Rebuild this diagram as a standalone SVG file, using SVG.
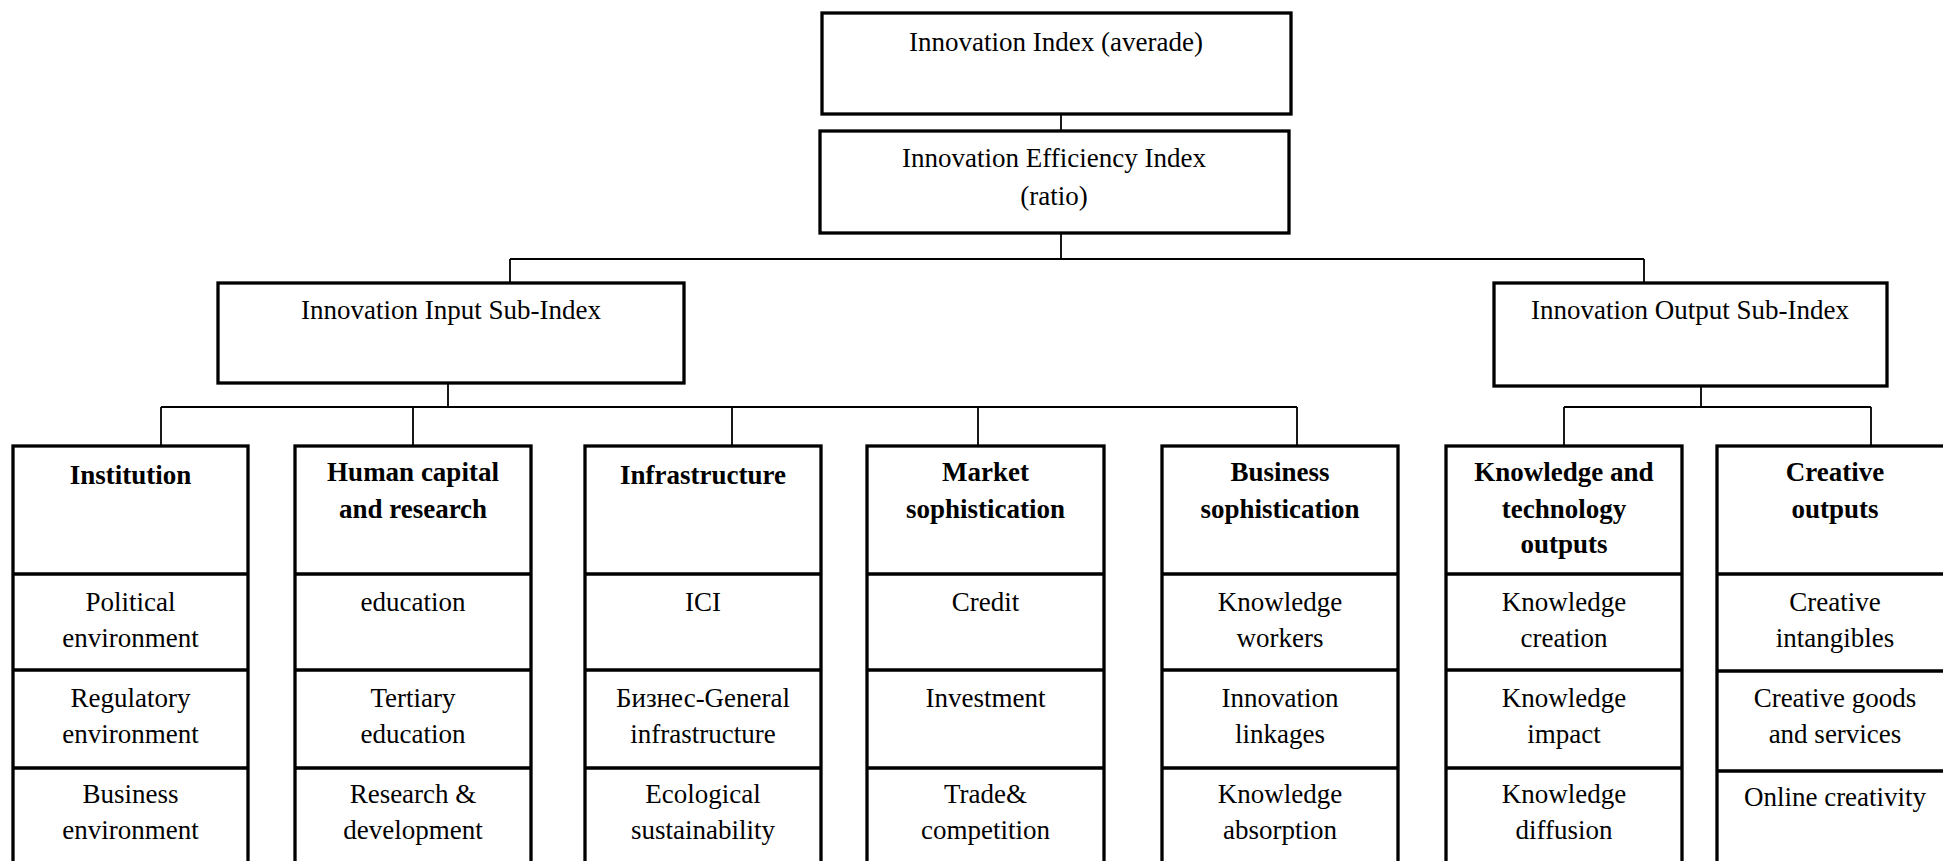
<svg xmlns="http://www.w3.org/2000/svg" width="1943" height="861" viewBox="0 0 1943 861">
  <style>
    .box { fill: #ffffff; stroke: #000000; stroke-width: 3.3; }
    .div { stroke: #000000; stroke-width: 3.3; fill: none; }
    .link { stroke: #000000; stroke-width: 1.8; fill: none; }
    text { font-family: "Liberation Serif", "Times New Roman", serif; font-size: 27px; fill: #000000; text-anchor: middle; }
    .hd { font-weight: bold; }
  </style>
  <rect width="1943" height="861" fill="#ffffff"/>

  <!-- connectors -->
  <g id="connectors">
    <path class="link" d="M1061,114 V131"/>
    <path class="link" d="M1061,233 V259 M510,259 H1644 M510,259 V283 M1644,259 V283"/>
    <path class="link" d="M448,383 V407 M161,407 H1297"/>
    <path class="link" d="M161,407 V446 M413,407 V446 M732,407 V446 M978,407 V446 M1297,407 V446"/>
    <path class="link" d="M1701,386 V407 M1564,407 H1871 M1564,407 V446 M1871,407 V446"/>
  </g>

  <!-- top level -->
  <g id="innovation-index">
    <rect class="box" x="822" y="13" width="469" height="101"/>
    <text x="1056" y="51">Innovation Index (averade)</text>
  </g>
  <g id="efficiency-index">
    <rect class="box" x="820" y="131" width="469" height="102"/>
    <text x="1054" y="167">Innovation Efficiency Index</text>
    <text x="1054" y="205">(ratio)</text>
  </g>

  <!-- sub-indices -->
  <g id="input-sub-index">
    <rect class="box" x="218" y="283" width="466" height="100"/>
    <text x="451" y="319">Innovation Input Sub-Index</text>
  </g>
  <g id="output-sub-index">
    <rect class="box" x="1494" y="283" width="393" height="103"/>
    <text x="1690" y="319">Innovation Output Sub-Index</text>
  </g>

  <!-- pillars -->
  <g id="institution">
    <rect class="box" x="13" y="446" width="235" height="440"/>
    <path class="div" d="M13,574 H248 M13,670 H248 M13,768 H248"/>
    <text class="hd" x="130.5" y="484">Institution</text>
    <text x="130.5" y="611">Political</text>
    <text x="130.5" y="647">environment</text>
    <text x="130.5" y="707">Regulatory</text>
    <text x="130.5" y="743">environment</text>
    <text x="130.5" y="803">Business</text>
    <text x="130.5" y="839">environment</text>
  </g>

  <g id="human-capital">
    <rect class="box" x="295" y="446" width="236" height="440"/>
    <path class="div" d="M295,574 H531 M295,670 H531 M295,768 H531"/>
    <text class="hd" x="413" y="481">Human capital</text>
    <text class="hd" x="413" y="518">and research</text>
    <text x="413" y="611">education</text>
    <text x="413" y="707">Tertiary</text>
    <text x="413" y="743">education</text>
    <text x="413" y="803">Research &amp;</text>
    <text x="413" y="839">development</text>
  </g>

  <g id="infrastructure">
    <rect class="box" x="585" y="446" width="236" height="440"/>
    <path class="div" d="M585,574 H821 M585,670 H821 M585,768 H821"/>
    <text class="hd" x="703" y="484">Infrastructure</text>
    <text x="703" y="611">ICI</text>
    <text x="703" y="707">Бизнес-General</text>
    <text x="703" y="743">infrastructure</text>
    <text x="703" y="803">Ecological</text>
    <text x="703" y="839">sustainability</text>
  </g>

  <g id="market-sophistication">
    <rect class="box" x="867" y="446" width="237" height="440"/>
    <path class="div" d="M867,574 H1104 M867,670 H1104 M867,768 H1104"/>
    <text class="hd" x="985.5" y="481">Market</text>
    <text class="hd" x="985.5" y="518">sophistication</text>
    <text x="985.5" y="611">Credit</text>
    <text x="985.5" y="707">Investment</text>
    <text x="985.5" y="803">Trade&amp;</text>
    <text x="985.5" y="839">competition</text>
  </g>

  <g id="business-sophistication">
    <rect class="box" x="1162" y="446" width="236" height="440"/>
    <path class="div" d="M1162,574 H1398 M1162,670 H1398 M1162,768 H1398"/>
    <text class="hd" x="1280" y="481">Business</text>
    <text class="hd" x="1280" y="518">sophistication</text>
    <text x="1280" y="611">Knowledge</text>
    <text x="1280" y="647">workers</text>
    <text x="1280" y="707">Innovation</text>
    <text x="1280" y="743">linkages</text>
    <text x="1280" y="803">Knowledge</text>
    <text x="1280" y="839">absorption</text>
  </g>

  <g id="knowledge-technology">
    <rect class="box" x="1446" y="446" width="236" height="440"/>
    <path class="div" d="M1446,574 H1682 M1446,670 H1682 M1446,768 H1682"/>
    <text class="hd" x="1564" y="481">Knowledge and</text>
    <text class="hd" x="1564" y="518">technology</text>
    <text class="hd" x="1564" y="553">outputs</text>
    <text x="1564" y="611">Knowledge</text>
    <text x="1564" y="647">creation</text>
    <text x="1564" y="707">Knowledge</text>
    <text x="1564" y="743">impact</text>
    <text x="1564" y="803">Knowledge</text>
    <text x="1564" y="839">diffusion</text>
  </g>

  <g id="creative-outputs">
    <rect class="box" x="1717" y="446" width="236" height="440"/>
    <path class="div" d="M1717,574 H1953 M1717,671 H1953 M1717,771 H1953"/>
    <text class="hd" x="1835" y="481">Creative</text>
    <text class="hd" x="1835" y="518">outputs</text>
    <text x="1835" y="611">Creative</text>
    <text x="1835" y="647">intangibles</text>
    <text x="1835" y="707">Creative goods</text>
    <text x="1835" y="743">and services</text>
    <text x="1835" y="806">Online creativity</text>
  </g>
</svg>
